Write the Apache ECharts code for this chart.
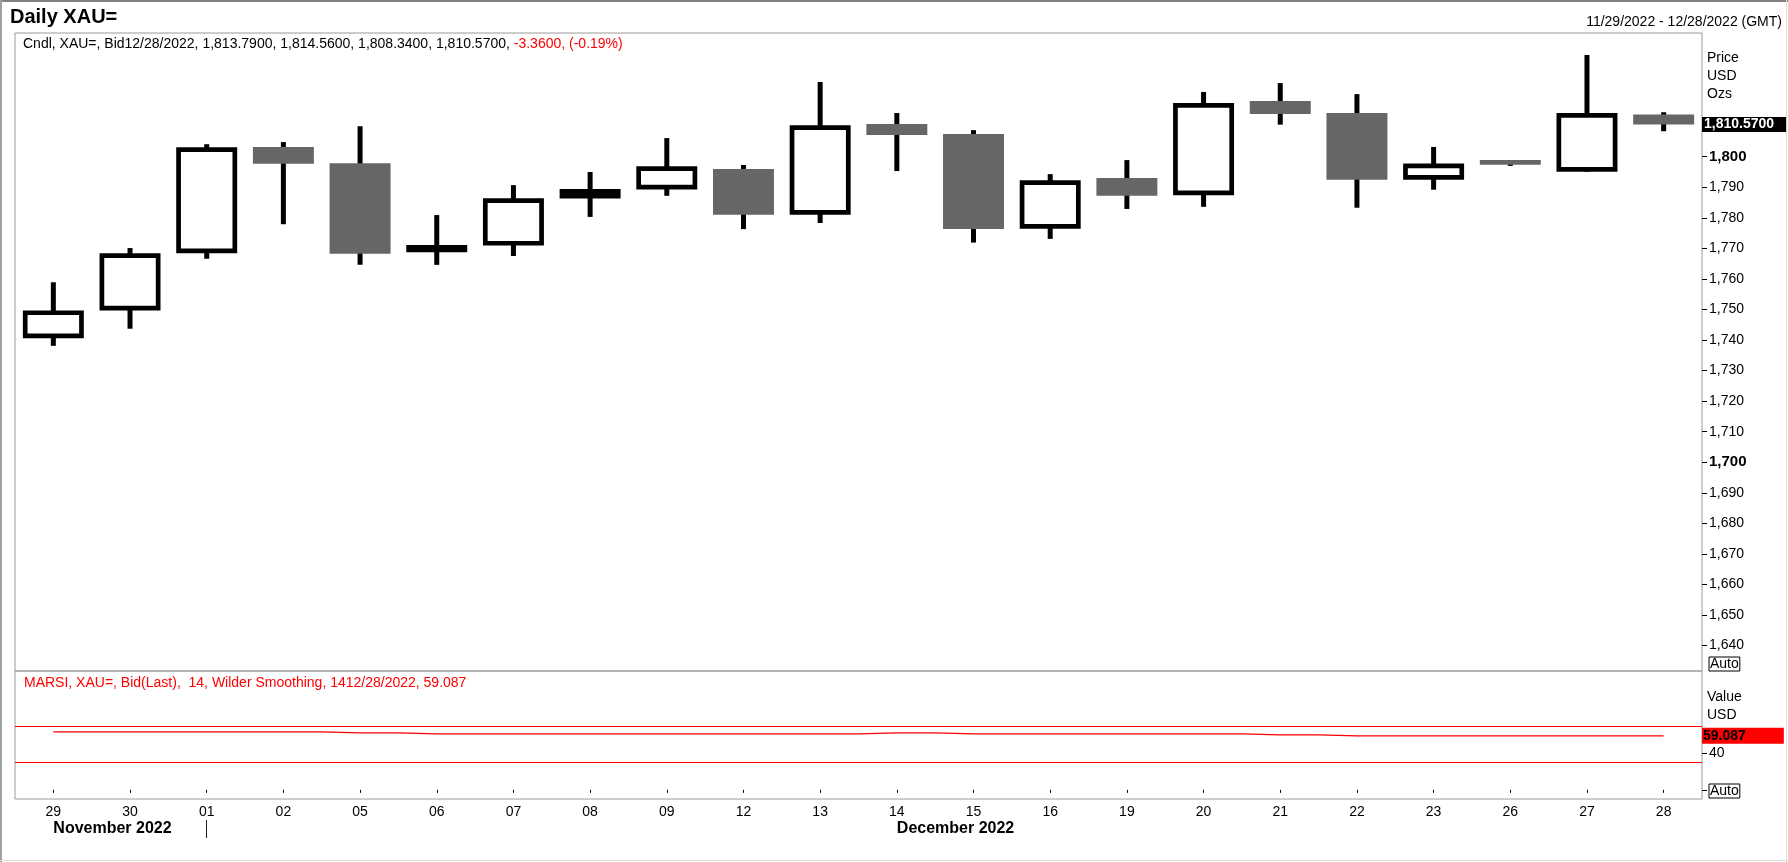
<!DOCTYPE html>
<html>
<head>
<meta charset="utf-8">
<script src="https://cdn.jsdelivr.net/npm/echarts@6/dist/echarts.min.js"></script>
<style>
html,body{margin:0;padding:0;background:#fff;}
#c{width:1788px;height:862px;}
</style>
</head>
<body>
<div id="c"></div>
<script>
var categories = ['29','30','01','02','05','06','07','08','09','12','13','14','15','16','19','20','21','22','23','26','27','28'];
var monthLabels = ['November 2022','','','','','','','','','','','December 2022','','','','','','','','','',''];
var openP  = [1740.6,1749.7,1768.4,1803.2,1797.9,1768.7,1770.9,1786.3,1789.3,1796.0,1781.0,1810.7,1807.4,1776.4,1793.0,1787.4,1818.2,1814.3,1792.5,1798.9,1795.1,1813.79];
var closeP = [1749.7,1768.4,1803.1,1797.7,1768.2,1771.1,1786.4,1789.4,1796.9,1781.0,1810.3,1807.1,1776.3,1792.3,1787.2,1817.6,1814.0,1792.5,1797.8,1797.4,1814.3,1810.57];
var lowP   = [1738.1,1743.7,1766.6,1777.9,1764.6,1764.6,1767.5,1780.3,1787.2,1776.3,1778.3,1795.3,1771.9,1773.1,1782.9,1783.6,1810.5,1783.3,1789.2,1797.0,1795.1,1808.34];
var highP  = [1758.9,1770.1,1804.1,1804.8,1810.0,1780.9,1790.7,1795.0,1806.1,1797.3,1824.5,1814.3,1808.7,1794.3,1798.9,1821.2,1824.1,1820.5,1803.2,1798.9,1833.3,1814.56];
var rsiValues = [63.4,63.4,63.4,63.4,62.4,61.3,61.3,61.3,61.3,61.3,61.3,62.4,61.3,61.3,61.3,61.3,60.2,59.1,59.1,59.1,59.1,59.087];
var priceTicks = [1640,1650,1660,1670,1680,1690,1700,1710,1720,1730,1740,1750,1760,1770,1780,1790,1800];
var rsiTicks = [0, 40];
var rsiLabels = [40];
var rsiBands = [70, 30];
var lastDate = '12/28/2022';
var lastChange = '-3.3600';
var lastChangePct = '(-0.19%)';

var FONT = '"Liberation Sans", Arial, sans-serif';

function fmt4(v) {
  return v.toLocaleString('en-US', {minimumFractionDigits: 4, maximumFractionDigits: 4});
}
var n = categories.length;
var lastO = openP[n-1], lastC = closeP[n-1], lastL = lowP[n-1], lastH = highP[n-1];
var lastRsi = rsiValues[n-1];

var candleData = categories.map(function (c, i) {
  return [i, openP[i], closeP[i], lowP[i], highP[i]];
});

function renderCandle(params, api) {
  var i = api.value(0), o = api.value(1), c = api.value(2), l = api.value(3), h = api.value(4);
  var pH = api.coord([i, h]), pL = api.coord([i, l]), pO = api.coord([i, o]), pC = api.coord([i, c]);
  var band = api.size([1, 0])[0];
  var w = band * 0.795;
  var cx = pH[0];
  var top = Math.min(pO[1], pC[1]), bot = Math.max(pO[1], pC[1]);
  var children = [{
    type: 'line',
    shape: {x1: cx, y1: pH[1], x2: cx, y2: pL[1]},
    style: {stroke: '#000', lineWidth: 5}
  }];
  if (c >= o) {
    var s = 4.7, hs = s / 2;
    children.push({
      type: 'rect',
      shape: {x: cx - w / 2 + hs, y: top + hs, width: w - s, height: Math.max(bot - top - s, 0)},
      style: {fill: '#fff', stroke: '#000', lineWidth: s}
    });
  } else {
    children.push({
      type: 'rect',
      shape: {x: cx - w / 2, y: top, width: w, height: Math.max(bot - top, 1)},
      style: {fill: '#666666'}
    });
  }
  return {type: 'group', children: children};
}

function txt(text, x, y, opts) {
  opts = opts || {};
  return {
    type: 'text',
    silent: true,
    z: 100,
    style: Object.assign({
      text: text, x: x, y: y,
      fontFamily: FONT, fontSize: 14, fill: '#000',
      align: 'left', verticalAlign: 'middle',
      textAlign: 'left', textVerticalAlign: 'middle'
    }, opts)
  };
}

var tagLine = {color: 'rgba(0,0,0,0)', width: 0, type: 'solid'};

var chart = echarts.init(document.getElementById('c'), null, {renderer: 'canvas'});
chart.setOption({
  animation: false,
  backgroundColor: '#fff',
  textStyle: {fontFamily: FONT},
  grid: [
    {left: 15, top: 33, width: 1687, height: 638, show: true, borderColor: '#9a9a9a', borderWidth: 1, backgroundColor: 'transparent'},
    {left: 15, top: 671, width: 1687, height: 128, show: true, borderColor: '#9a9a9a', borderWidth: 1, backgroundColor: 'transparent'}
  ],
  xAxis: [
    {type: 'category', gridIndex: 0, data: categories, show: false},
    {
      type: 'category', gridIndex: 1, data: categories,
      axisLine: {show: false},
      axisTick: {show: true, alignWithLabel: true, length: 3, lineStyle: {color: '#000'}},
      axisLabel: {fontSize: 14, color: '#000', margin: 6, interval: 0, fontFamily: FONT}
    },
    {
      type: 'category', gridIndex: 1, data: categories, position: 'bottom', offset: 21,
      axisLine: {show: false},
      axisTick: {show: true, alignWithLabel: true, length: 18, interval: function (i) { return i === 2; }, lineStyle: {color: '#222', width: 1}},
      axisLabel: {
        interval: 0, align: 'left', fontWeight: 'bold', fontSize: 16, color: '#000', margin: 1, fontFamily: FONT,
        formatter: function (v, i) { return monthLabels[i]; }
      }
    }
  ],
  yAxis: [
    {
      type: 'value', gridIndex: 0, position: 'right', min: 1631.65, max: 1840.5,
      splitLine: {show: false}, axisLine: {show: false},
      axisTick: {show: true, customValues: priceTicks, length: 5, lineStyle: {color: '#000'}},
      axisLabel: {
        customValues: priceTicks, margin: 7, fontSize: 14, color: '#000', fontFamily: FONT,
        formatter: function (v) {
          var s = v.toLocaleString('en-US');
          return (v % 100 === 0) ? '{b|' + s + '}' : s;
        },
        rich: {b: {fontWeight: 'bold', fontSize: 15, color: '#000', fontFamily: FONT}}
      }
    },
    {
      type: 'value', gridIndex: 1, position: 'right', min: -10, max: 130,
      splitLine: {show: false}, axisLine: {show: false},
      axisTick: {show: true, customValues: rsiTicks, length: 5, lineStyle: {color: '#000'}},
      axisLabel: {customValues: rsiLabels, margin: 7, fontSize: 14, color: '#000', fontFamily: FONT}
    }
  ],
  series: [
    {
      type: 'custom', name: 'Cndl', xAxisIndex: 0, yAxisIndex: 0,
      data: candleData, encode: {x: 0, y: [1, 2, 3, 4]},
      renderItem: renderCandle, silent: true, z: 3
    },
    {
      type: 'line', name: 'lastTag', xAxisIndex: 0, yAxisIndex: 0, data: closeP,
      symbol: 'none', showSymbol: false, lineStyle: {width: 0, color: 'rgba(0,0,0,0)'}, silent: true, z: 4,
      markLine: {
        silent: true, symbol: 'none', animation: false,
        lineStyle: tagLine,
        label: {
          show: true, position: 'end', distance: 0,
          formatter: fmt4(lastC),
          backgroundColor: '#000', color: '#fff', fontWeight: 'bold', fontSize: 14, fontFamily: FONT,
          padding: [1, 12, 0, 2], lineHeight: 14
        },
        data: [{yAxis: lastC}]
      }
    },
    {
      type: 'line', name: 'MARSI', xAxisIndex: 1, yAxisIndex: 1, data: rsiValues,
      step: 'middle', symbol: 'none', showSymbol: false, silent: true,
      lineStyle: {color: '#ff0000', width: 1.2},
      markLine: {
        silent: true, symbol: 'none', animation: false,
        lineStyle: {color: '#ff0000', width: 1.2, type: 'solid'},
        label: {show: false},
        data: rsiBands.map(function (b) { return {yAxis: b}; })
      }
    },
    {
      type: 'line', name: 'rsiTag', xAxisIndex: 1, yAxisIndex: 1, data: rsiValues,
      symbol: 'none', showSymbol: false, lineStyle: {width: 0, color: 'rgba(0,0,0,0)'}, silent: true, z: 4,
      markLine: {
        silent: true, symbol: 'none', animation: false,
        lineStyle: tagLine,
        label: {
          show: true, position: 'end', distance: 0,
          formatter: lastRsi.toFixed(3),
          backgroundColor: '#ff0000', color: '#000', fontWeight: 'bold', fontSize: 14, fontFamily: FONT,
          padding: [1, 38, 1, 1], lineHeight: 14
        },
        data: [{yAxis: lastRsi}]
      }
    }
  ],
  graphic: [
    {type: 'line', silent: true, shape: {x1: 0, y1: 1, x2: 1788, y2: 1}, style: {stroke: '#808080', lineWidth: 2}},
    {type: 'line', silent: true, shape: {x1: 1, y1: 0, x2: 1, y2: 862}, style: {stroke: '#a0a0a0', lineWidth: 2}},
    {type: 'line', silent: true, shape: {x1: 1786.5, y1: 0, x2: 1786.5, y2: 862}, style: {stroke: '#dcdcdc', lineWidth: 1}},
    {type: 'line', silent: true, shape: {x1: 0, y1: 860.5, x2: 1788, y2: 860.5}, style: {stroke: '#dcdcdc', lineWidth: 1}},
    txt('Daily XAU=', 10, 17, {fontSize: 20, fontWeight: 'bold'}),
    txt('11/29/2022 - 12/28/2022 (GMT)', 1782, 22, {align: 'right', textAlign: 'right'}),
    txt('{k|Cndl, XAU=, Bid' + lastDate + ', ' + fmt4(lastO) + ', ' + fmt4(lastH) + ', ' + fmt4(lastL) + ', ' + fmt4(lastC) + ', }{r|' + lastChange + ', ' + lastChangePct + '}', 23, 44, {
      rich: {
        k: {fontSize: 14, fill: '#000', color: '#000', fontFamily: FONT},
        r: {fontSize: 14, fill: '#ff0000', color: '#ff0000', fontFamily: FONT}
      }
    }),
    txt('MARSI, XAU=, Bid(Last),  14, Wilder Smoothing, 14' + lastDate + ', ' + lastRsi.toFixed(3), 24, 683, {fill: '#ff0000'}),
    txt('Price', 1707, 58),
    txt('USD', 1707, 76),
    txt('Ozs', 1707, 94),
    txt('Value', 1707, 697),
    txt('USD', 1707, 715),
    txt('Auto', 1709, 664, {borderColor: '#000', borderWidth: 1, padding: [1, 1, 0, 1], lineHeight: 13}),
    txt('Auto', 1709, 791, {borderColor: '#000', borderWidth: 1, padding: [1, 1, 0, 1], lineHeight: 13})
  ]
});
</script>
</body>
</html>
